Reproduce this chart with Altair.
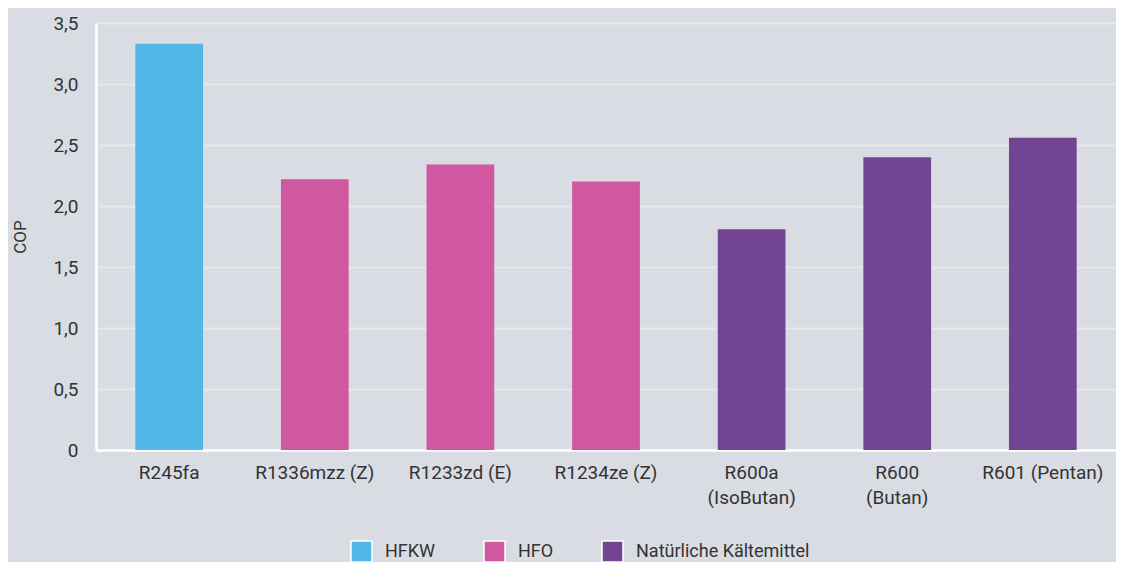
import altair as alt
import pandas as pd

categories = ["R245fa", "R1336mzz (Z)", "R1233zd (E)", "R1234ze (Z)",
              "R600a\n(IsoButan)", "R600\n(Butan)", "R601 (Pentan)"]
cop = [3.33, 2.22, 2.34, 2.20, 1.81, 2.40, 2.56]
groups = ["HFKW", "HFO", "HFO", "HFO",
          "Natürliche Kältemittel", "Natürliche Kältemittel", "Natürliche Kältemittel"]
group_order = ["HFKW", "HFO", "Natürliche Kältemittel"]
group_colors = ["#52b7e8", "#d058a0", "#724593"]
y_ticks = [0, 0.5, 1.0, 1.5, 2.0, 2.5, 3.0, 3.5]

df = pd.DataFrame({"Kältemittel": categories, "COP": cop, "Gruppe": groups})

FONT = "Roboto"
TXT = "#333333"
BG = "#d9dce3"

chart = alt.Chart(df).mark_bar().encode(
    x=alt.X("Kältemittel:N", sort=categories, title=None,
            scale=alt.Scale(paddingInner=0.535, paddingOuter=0.27),
            axis=alt.Axis(labelAngle=0, labelExpr="split(datum.label, '\\n')",
                          labelPadding=13, ticks=False, domainColor="#ffffff",
                          domainWidth=2.5, labelFontSize=19, labelColor=TXT,
                          labelFont=FONT, labelLineHeight=25, grid=False)),
    y=alt.Y("COP:Q", title="COP",
            scale=alt.Scale(domain=[0, 3.5], nice=False),
            axis=alt.Axis(values=y_ticks,
                          labelExpr="datum.value == 0 ? '0' : replace(format(datum.value, '.1f'), '.', ',')",
                          ticks=False, labelPadding=18, domainColor="#ffffff",
                          domainWidth=2.5, gridColor="#e6e8ec", gridWidth=2,
                          labelFontSize=19, labelColor=TXT, labelFont=FONT,
                          titleFont=FONT, titleFontSize=17, titleFontWeight="normal",
                          titleColor=TXT, titlePadding=23)),
    color=alt.Color("Gruppe:N", sort=group_order,
                    scale=alt.Scale(domain=group_order, range=group_colors),
                    legend=alt.Legend(title=None, orient="none", direction="horizontal",
                                      legendX=254, legendY=517,
                                      symbolType="square", symbolSize=441,
                                      symbolStrokeColor="#ffffff", symbolStrokeWidth=1.5,
                                      symbolOpacity=1, labelLimit=400,
                                      labelFontSize=18, labelFont=FONT, labelColor=TXT,
                                      labelOffset=12, columnPadding=45, padding=0))
).properties(
    width=1020, height=427,
    background=BG,
    autosize=alt.AutoSizeParams(type="none"),
    padding={"left": 88, "top": 15, "right": 0, "bottom": 112}
).configure_view(stroke=None)

chart.save("out.html", embed_options={"renderer": "svg", "actions": False})
